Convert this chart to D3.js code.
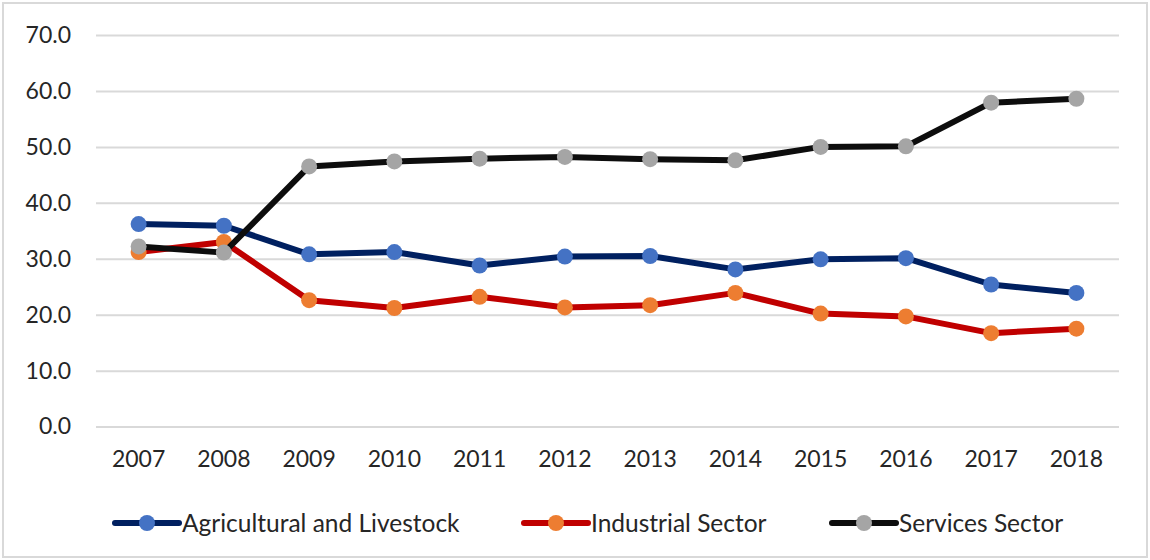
<!DOCTYPE html>
<html>
<head>
<meta charset="utf-8">
<script src="https://cdn.jsdelivr.net/npm/d3@7"></script>
<style>
  html, body { margin: 0; padding: 0; background: #fff; }
  svg { display: block; }
  text { font-family: Lato, "Liberation Sans", sans-serif; fill: #262626; }
</style>
</head>
<body>
<svg id="chart" width="1150" height="560"></svg>
<script>
// Years on the category axis
const years = ["2007", "2008", "2009", "2010", "2011", "2012", "2013", "2014", "2015", "2016", "2017", "2018"];

// Share of each sector per year (%)
const agricultural = [36.2, 35.9, 30.8, 31.2, 28.8, 30.4, 30.5, 28.1, 29.9, 30.1, 25.4, 23.9];
const industrial   = [31.2, 33.0, 22.6, 21.2, 23.2, 21.3, 21.7, 23.9, 20.2, 19.7, 16.7, 17.5];
const services     = [32.2, 31.1, 46.5, 47.4, 47.9, 48.2, 47.8, 47.6, 50.0, 50.1, 57.9, 58.6];

// Value-axis ticks
const yTicks = [0, 10, 20, 30, 40, 50, 60, 70];

const seriesNames = ["Agricultural and Livestock", "Industrial Sector", "Services Sector"];

const series = [
  { name: seriesNames[0], values: agricultural, line: "#002060", marker: "#4472C4" },
  { name: seriesNames[1], values: industrial,   line: "#C00000", marker: "#ED7D31" },
  { name: seriesNames[2], values: services,     line: "#0D0D0D", marker: "#A5A5A5" }
];

const svg = d3.select("#chart");

// Outer frame
svg.append("rect")
  .attr("x", 3).attr("y", 3)
  .attr("width", 1144).attr("height", 554)
  .attr("fill", "#fff")
  .attr("stroke", "#D9D9D9")
  .attr("stroke-width", 2);

const plotLeft = 96, plotRight = 1119;
const x = d3.scaleBand().domain(years).range([plotLeft, plotRight]).padding(0);
const cx = d => x(d) + x.bandwidth() / 2;
const y = d3.scaleLinear().domain([0, 70]).range([426.6, 35]);

// Horizontal gridlines
const yAxis = d3.axisLeft(y)
  .tickValues(yTicks)
  .tickSize(-(plotRight - plotLeft))
  .tickPadding(25)
  .tickFormat(d3.format(".1f"));

const gy = svg.append("g")
  .attr("transform", `translate(${plotLeft},0)`)
  .call(yAxis);
gy.select(".domain").remove();
gy.selectAll(".tick line").attr("stroke", "#D9D9D9").attr("stroke-width", 2);
gy.selectAll(".tick text")
  .attr("font-size", 23)
  .attr("fill", "#262626")
  .style("font-family", "Lato, 'Liberation Sans', sans-serif");

// Category axis labels
const xAxis = d3.axisBottom(x).tickSize(0).tickPadding(24);
const gx = svg.append("g")
  .attr("transform", `translate(0,${y(0)})`)
  .call(xAxis);
gx.select(".domain").remove();
gx.selectAll(".tick text")
  .attr("font-size", 23)
  .attr("fill", "#262626")
  .style("font-family", "Lato, 'Liberation Sans', sans-serif");

// Series lines and markers
const line = d3.line()
  .x((d, i) => cx(years[i]))
  .y(d => y(d));

series.forEach(s => {
  svg.append("path")
    .datum(s.values)
    .attr("d", line)
    .attr("fill", "none")
    .attr("stroke", s.line)
    .attr("stroke-width", 6)
    .attr("stroke-linejoin", "round")
    .attr("stroke-linecap", "round");

  svg.append("g")
    .selectAll("circle")
    .data(s.values)
    .join("circle")
    .attr("cx", (d, i) => cx(years[i]))
    .attr("cy", d => y(d))
    .attr("r", 8)
    .attr("fill", s.marker);
});

// Legend
const legendY = 523;
const legendX = [115, 524, 832];
series.forEach((s, i) => {
  const g = svg.append("g").attr("transform", `translate(${legendX[i]},${legendY})`);
  g.append("line")
    .attr("x1", 0).attr("x2", 64)
    .attr("y1", 0).attr("y2", 0)
    .attr("stroke", s.line)
    .attr("stroke-width", 6)
    .attr("stroke-linecap", "round");
  g.append("circle")
    .attr("cx", 32).attr("cy", 0).attr("r", 8)
    .attr("fill", s.marker);
  g.append("text")
    .attr("x", 67).attr("y", 0)
    .attr("dy", "0.36em")
    .attr("font-size", 24.5)
    .text(s.name);
});
</script>
</body>
</html>
